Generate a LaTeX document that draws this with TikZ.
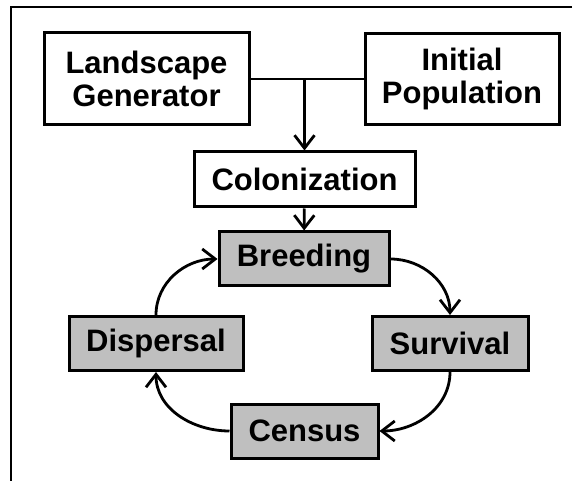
\documentclass[tikz,border=0pt]{standalone}
\usepackage{fontspec}
\setmainfont{Liberation Sans}
\usetikzlibrary{arrows.meta}
\tikzset{
  box/.style={draw, line width=1.5pt, inner sep=0pt, align=center,
    font=\bfseries\fontsize{15.5}{16.5}\selectfont},
  stage/.style={box, fill=gray!50, minimum height=27pt},
}
\begin{document}
\begin{tikzpicture}[x=0.5pt, y=-0.5pt, >={Straight Barb[length=6.5pt,width=10pt]}, line width=1.4pt]
    \useasboundingbox (0,0) rectangle (574,481);
    \draw[line width=1.1pt] (572,7)--(11,7)--(11,481);
% inputs
\node[box, minimum width=102.5pt, minimum height=46pt] (land) at (146.5,79) {Landscape\\Generator};
\node[box, minimum width=97pt, minimum height=45.5pt] (init) at (462,79) {Initial\\Population};
\node[box, minimum width=110.5pt, minimum height=27.5pt] (colon) at (304.5,179.5) {Colonization};
\coordinate (join) at (304.5,79);
\draw (land.east)--(init.west);
\draw[->] (join)--(colon.north);
% yearly cycle
\node[stage, minimum width=85pt] (breed) at (304,259) {Breeding};
\node[stage, minimum width=78pt] (surv) at (450,343.5) {Survival};
\node[stage, minimum width=73.5pt] (cens) at (304.5,431) {Census};
\node[stage, minimum width=87pt] (disp) at (156,343.5) {Dispersal};
\draw[->] (colon)--(breed);
\draw[->] (breed.east) to[out=0,in=90] (surv.north);
\draw[->] (surv.south) to[out=-90,in=0] (cens.east);
\draw[->] (cens.west) to[out=180,in=-90] (disp.south);
\draw[->] (disp.north) to[out=90,in=180] (breed.west);

\end{tikzpicture}
\end{document}
